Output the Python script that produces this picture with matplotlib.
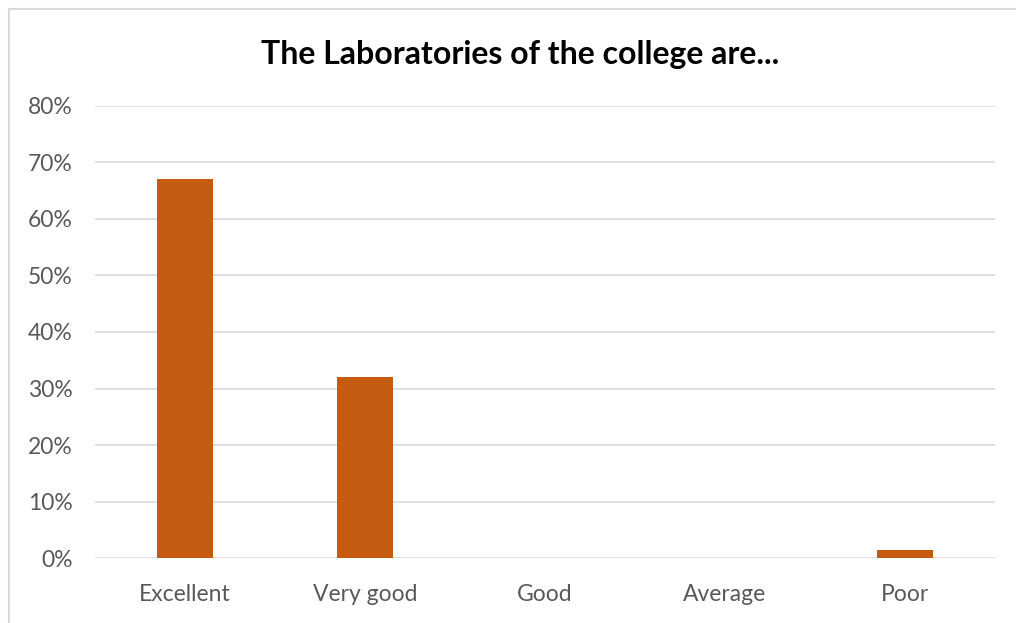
import matplotlib.pyplot as plt
from matplotlib.lines import Line2D
from matplotlib.ticker import PercentFormatter

categories = ["Excellent", "Very good", "Good", "Average", "Poor"]
shares = [0.67, 0.32, 0.0, 0.0, 0.015]
y_ticks = [0.0, 0.1, 0.2, 0.3, 0.4, 0.5, 0.6, 0.7, 0.8]

plt.rcParams['font.family'] = ['Lato', 'DejaVu Sans']

fig = plt.figure(figsize=(10.16, 6.23), dpi=100)
ax = fig.add_axes([0.0935, 0.1043, 0.8855, 0.7256])

# outer chart border: only left and top edges show in the original crop
bx, by = 8.5 / 1016, 1 - 8.5 / 623
fig.lines.append(Line2D([bx, bx], [0, by], transform=fig.transFigure,
                        color='#d9d9d9', linewidth=1.5))
fig.lines.append(Line2D([bx, 1], [by, by], transform=fig.transFigure,
                        color='#d9d9d9', linewidth=1.5))

x = range(len(categories))
ax.bar(x, shares, width=0.31, color='#c55a11', zorder=3)

ax.set_xlim(-0.5, len(categories) - 0.5)
ax.set_ylim(0, 0.8)
ax.set_yticks(y_ticks)
ax.yaxis.set_major_formatter(PercentFormatter(1.0, decimals=0))
ax.set_xticks(list(x))
ax.set_xticklabels(categories)
ax.grid(axis='y', color='#d9d9d9', linewidth=1.2, zorder=0)
for s in ax.spines.values():
    s.set_visible(False)
ax.tick_params(axis='both', length=0, labelsize=16.5, colors='#595959')
ax.tick_params(axis='y', pad=16)
ax.tick_params(axis='x', pad=19)

fig.text(0.512, 0.913, "The Laboratories of the college are...", ha='center',
         va='center', fontsize=23, fontweight='bold', color='black')

fig.savefig("out.png", dpi=100)
